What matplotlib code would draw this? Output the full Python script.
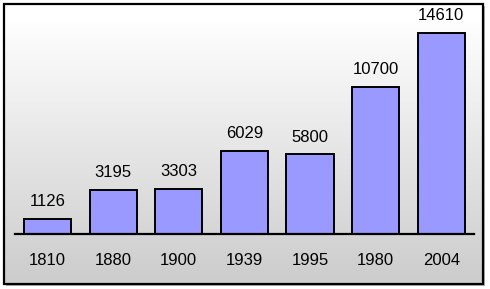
import matplotlib
matplotlib.use("Agg")
import matplotlib.pyplot as plt
import numpy as np
from matplotlib.patches import Rectangle

years = ["1810", "1880", "1900", "1939", "1995", "1980", "2004"]
values = [1126, 3195, 3303, 6029, 5800, 10700, 14610]

plt.rcParams['font.family'] = ['Liberation Sans', 'DejaVu Sans']

W, H = 490, 289
fig = plt.figure(figsize=(W / 100, H / 100), dpi=100)
fig.patch.set_facecolor('white')

# background with frame and gradient
bg = fig.add_axes([0, 0, 1, 1])
bg.set_xlim(0, W)
bg.set_ylim(H, 0)
bg.axis('off')
# shadow
bg.add_patch(Rectangle((6, 6), 479, 280, facecolor='#b0b0b0', edgecolor='none', zorder=0))
grad = np.linspace(0, 1, 256).reshape(-1, 1)
top = np.array([1.0, 1.0, 1.0])
bot = np.array([0.80, 0.80, 0.80])
img = top + (bot - top) * np.clip((grad - 0.05) / 0.95, 0, 1)[..., None] * np.ones(3)
img = img.reshape(256, 1, 3)
bg.imshow(img, extent=(4, 483, 284, 4), aspect='auto', zorder=1)
bg.add_patch(Rectangle((4, 4), 479, 280, facecolor='none', edgecolor='black', linewidth=1.6, zorder=2))

# plot area
x0, x1, yb, yt = 14.7, 474.0, 234.0, 14.0
ax = fig.add_axes([x0 / W, 1 - yb / H, (x1 - x0) / W, (yb - yt) / H])
ax.patch.set_alpha(0)
x = np.arange(len(years))
bars = ax.bar(x, values, width=0.72, color='#9999FF', edgecolor='black', linewidth=1.4, zorder=3)
ax.set_xlim(-0.5, len(years) - 0.5)
ax.set_ylim(0, 16000)
for s in ['top', 'right', 'left']:
    ax.spines[s].set_visible(False)
ax.spines['bottom'].set_linewidth(1.6)
ax.spines['bottom'].set_zorder(4)
ax.set_yticks([])
ax.set_xticks(x)
ax.set_xticklabels(years, fontsize=12)
ax.tick_params(axis='x', length=0, pad=14)
for xi, v in zip(x, values):
    ax.annotate(str(v), (xi, v), xytext=(0, 7), textcoords='offset points',
                ha='center', va='bottom', fontsize=12)

fig.savefig('out.png', dpi=100)
